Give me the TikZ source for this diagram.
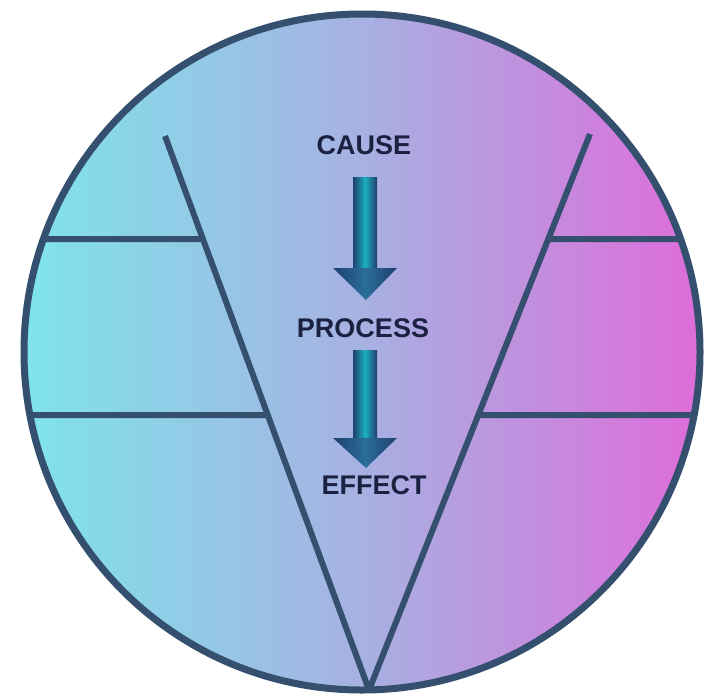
\documentclass[tikz,border=0pt]{standalone}
\usepackage{fontspec}
\setmainfont{Liberation Sans}
\usetikzlibrary{calc}
\definecolor{cyanL}{HTML}{7EE4EA}
\definecolor{midL}{HTML}{A7B1E2}
\definecolor{magR}{HTML}{DE6CDA}
\definecolor{lineC}{HTML}{35506F}
\definecolor{txtC}{HTML}{1B2140}
\definecolor{arrDark}{HTML}{1F3F70}
\definecolor{arrGlow}{HTML}{1CB0BC}
\definecolor{headGlow}{HTML}{2A6E98}
\tikzset{
  frame/.style={draw=lineC, line width=7pt},
  bar/.style={draw=lineC, line width=6pt},
  label/.style={text=txtC, font=\bfseries\fontsize{27}{27}\selectfont, inner sep=0pt},
  shaftfill/.style={left color=arrDark, right color=arrDark, middle color=arrGlow, draw=none},
  headfill/.style={left color=arrDark, right color=arrDark, middle color=headGlow, draw=none}
}
\begin{document}
\begin{tikzpicture}[x=1pt,y=-1pt]
\useasboundingbox (0,0) rectangle (708,699);
\fill[white] (0,0) rectangle (708,699);
% circle
\coordinate (O) at (362,352);
\shade[left color=cyanL, right color=magR, middle color=midL] (O) circle (338);
% V endpoints
\coordinate (VL) at (165,136);
\coordinate (VR) at (590,134);
\coordinate (VB) at (369,690);
\begin{scope}
\clip (O) circle (338);
\draw[bar, line cap=butt] (VL) -- (VB) -- (VR);
% horizontal bars
\coordinate (LU) at (intersection of VL--VB and 0,239--100,239);
\coordinate (LD) at (intersection of VL--VB and 0,415--100,415);
\coordinate (RU) at (intersection of VR--VB and 600,239--700,239);
\coordinate (RD) at (intersection of VR--VB and 600,415--700,415);
\coordinate (LUe) at (0,239);
\coordinate (LDe) at (0,415);
\coordinate (RUe) at (708,239);
\coordinate (RDe) at (708,415);
\draw[bar] (LUe) -- (LU);
\draw[bar] (LDe) -- (LD);
\draw[bar] (RU) -- (RUe);
\draw[bar] (RD) -- (RDe);
\end{scope}
\draw[frame] (O) circle (338);
% arrows
\shade[shaftfill] (353,177) rectangle (377,269);
\shade[headfill] (333,268) -- (397,268) -- (366,300) -- cycle;
\shade[shaftfill] (353,350) rectangle (377,439);
\shade[headfill] (333,438) -- (397,438) -- (366,468) -- cycle;
% labels
\node[label] (cause) at (364,145) {CAUSE};
\node[label] (process) at (363,328) {PROCESS};
\node[label] (effect) at (374,485) {EFFECT};
\end{tikzpicture}
\end{document}
